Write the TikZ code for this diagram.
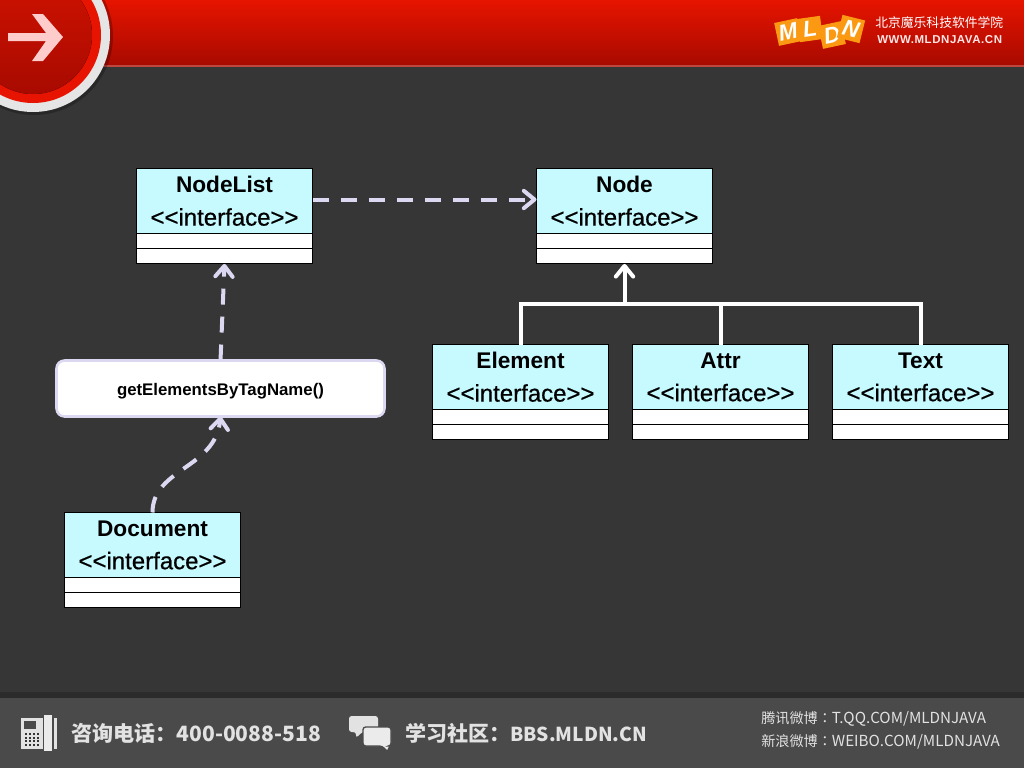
\documentclass[tikz,border=0pt]{standalone}
\usepackage{fontspec}
\setmainfont{Liberation Sans}
\newfontfamily\cjk{Noto Sans CJK SC}
\newfontfamily\cjktc{Noto Sans CJK TC}
\usetikzlibrary{arrows.meta,positioning}
\definecolor{slate}{HTML}{363636}
\definecolor{barcol}{HTML}{4A4A4A}
\definecolor{headcol}{HTML}{C6FAFF}
\definecolor{lilac}{HTML}{DDD8F2}
\definecolor{logocol}{HTML}{FB9A12}
\definecolor{footcol}{HTML}{E2E2E2}
\definecolor{redtop}{HTML}{E61400}
\definecolor{redlow}{HTML}{A80A00}
% class box: name, position, title
\newcommand{\classbox}[3]{
\node [head] (#1) at (#2) {\textbf{#3}\\{\fontsize{18}{24.75}\selectfont\addfontfeature{FakeBold=0.6}{<}{<}interface{>}{>}}};
\node [row, below=0pt of #1] (#1mid) {};
\node [row, below=0pt of #1mid] (#1low) {};
}
\begin{document}
\begin{tikzpicture}[x=0.75pt,y=-0.75pt]
\tikzstyle{head} = [rectangle, draw=black, line width=0.75pt, fill=headcol, anchor=north west,
minimum width=132pt, minimum height=48.75pt, outer sep=0pt, inner sep=0pt, align=center,
font=\fontsize{17}{24.75}\selectfont]
\tikzstyle{row} = [rectangle, draw=black, line width=0.75pt, fill=white,
minimum width=132pt, minimum height=11.4pt, outer sep=0pt, inner sep=0pt]
\tikzstyle{call} = [rectangle, draw=lilac, line width=1.9pt, fill=white, rounded corners=6pt,
minimum width=246pt, minimum height=42pt, outer sep=0pt, text height=11.5pt, text depth=0.7pt,
font=\fontsize{12.6}{15}\selectfont\bfseries]
\tikzstyle{solidline} = [draw=white, line width=3pt, ->, >={Straight Barb[round,length=8pt,width=13pt]}]
\tikzstyle{plainline} = [draw=white, line width=3pt]
\tikzstyle{dashline} = [draw=lilac, line width=3pt, dash pattern=on 12pt off 9pt,
->, >={Straight Barb[round,length=8pt,width=13pt]}]
\tikzstyle{logotile} = [rectangle, fill=logocol, minimum size=17.5pt, inner sep=0pt, text=white,
font=\fontsize{17}{17}\selectfont\bfseries\itshape]
\tikzstyle{foot} = [anchor=west, inner sep=0pt, text=footcol]
\useasboundingbox (0,0) rectangle (1024,768);
\clip (0,0) rectangle (1024,768);
\fill [slate] (0,0) rectangle (1024,768);
% top band
\fill [top color=redtop, bottom color=redlow] (0,0) rectangle (1024,65);
\fill [redlow!75!white] (0,65) rectangle (1024,67);
\fill [black, opacity=0.25] (34,36) circle (79);
\fill [black!10] (33,35) circle (77);
\fill [redtop] (33,35) circle (68);
\fill [top color=redtop!90!black, bottom color=redlow] (33,35) circle (59);
\fill [red!20!white] (8,33) -- (46,33) -- (32,14) -- (43,14) -- (63,37) -- (43,61) -- (32,61) -- (46,41) -- (8,41) -- cycle;
% logo
\node [logotile, rotate=12] (tileM) at (788,32) {M};
\node [logotile, rotate=8] (tileL) at (810,29) {L};
\node [logotile, rotate=12] (tileD) at (832,35) {D};
\node [logotile, rotate=-14] (tileN) at (851,29) {N};
\node [foot, text=white] (school) at (875,23) {\cjk\fontsize{9.6}{12}\selectfont 北京魔乐科技软件学院};
\node [foot, text=white!90!red] (site) at (877,40) {\fontsize{8.6}{11}\selectfont\bfseries\addfontfeature{LetterSpace=5}WWW.MLDNJAVA.CN};
% bottom band
\fill [slate!80!black] (0,692) rectangle (1024,698);
\fill [barcol] (0,698) rectangle (1024,768);
% phone icon
\fill [footcol] (21,718) rectangle (43,749);
\fill [white!92!black] (44,715) rectangle (52,751);
\fill [footcol] (54,718) rectangle (56.5,749);
\fill [barcol] (24,721) rectangle (36,729);
\foreach \i in {0,1,2,3} \foreach \j in {0,1,2,3}
\fill [barcol!70!black] (25+\i*4,733+\j*3.6) rectangle +(2.4,2);
% chat icon
\fill [footcol, rounded corners=2pt] (349,716) -- (378,716) -- (378,732) -- (362,732) -- (356,738) -- (356,732) -- (349,732) -- cycle;
\draw [barcol, line width=1pt, fill=white!92!black, rounded corners=2pt] (363,727) -- (391,727) -- (391,746) -- (389,746) -- (388,752) -- (382,746) -- (363,746) -- cycle;
\node [foot] (phone) at (71,733) {\fontsize{15.8}{18}\selectfont\cjk\bfseries 咨询电话：400-0088-518};
\node [foot] (forum) at (405,733) {\fontsize{15.8}{18}\selectfont\cjk\bfseries 学习社区：{\fontsize{14.4}{18}\selectfont BBS.MLDN.CN}};
\node [foot] (qq) at (761,719) {\fontsize{10.6}{13}\selectfont\cjktc 腾讯微博：{\fontsize{11.4}{13}\selectfont T.QQ.COM/MLDNJAVA}};
\node [foot] (weibo) at (761,742) {\fontsize{10.6}{13}\selectfont\cjktc 新浪微博：{\fontsize{11.4}{13}\selectfont WEIBO.COM/MLDNJAVA}};
% classes
\classbox{NodeList}{136.5,168.5}{NodeList}
\classbox{Node}{536.5,168.5}{Node}
\classbox{Element}{432.5,344.5}{Element}
\classbox{Attr}{632.5,344.5}{Attr}
\classbox{Text}{832.5,344.5}{Text}
\classbox{Document}{64.5,512.5}{Document}
\node [call] (method) at (220.5,388.5) {getElementsByTagName()};
\coordinate (bus) at (624.5,304);
% connectors
\path [plainline] (Element.north) |- (bus);
\path [plainline] (Text.north) |- (bus);
\path [plainline] (Attr.north) -- (Attr.north |- bus);
\path [solidline] (bus) -- (Nodelow.south);
\path [dashline] (NodeList.east |- 0,199.5) -- (Node.west |- 0,199.5);
\path [dashline] (method.north) -- (NodeListlow.south);
\path [dashline] (Document.north) .. controls +(0,-44) and +(-5,52) .. (method.south);
\end{tikzpicture}
\end{document}
